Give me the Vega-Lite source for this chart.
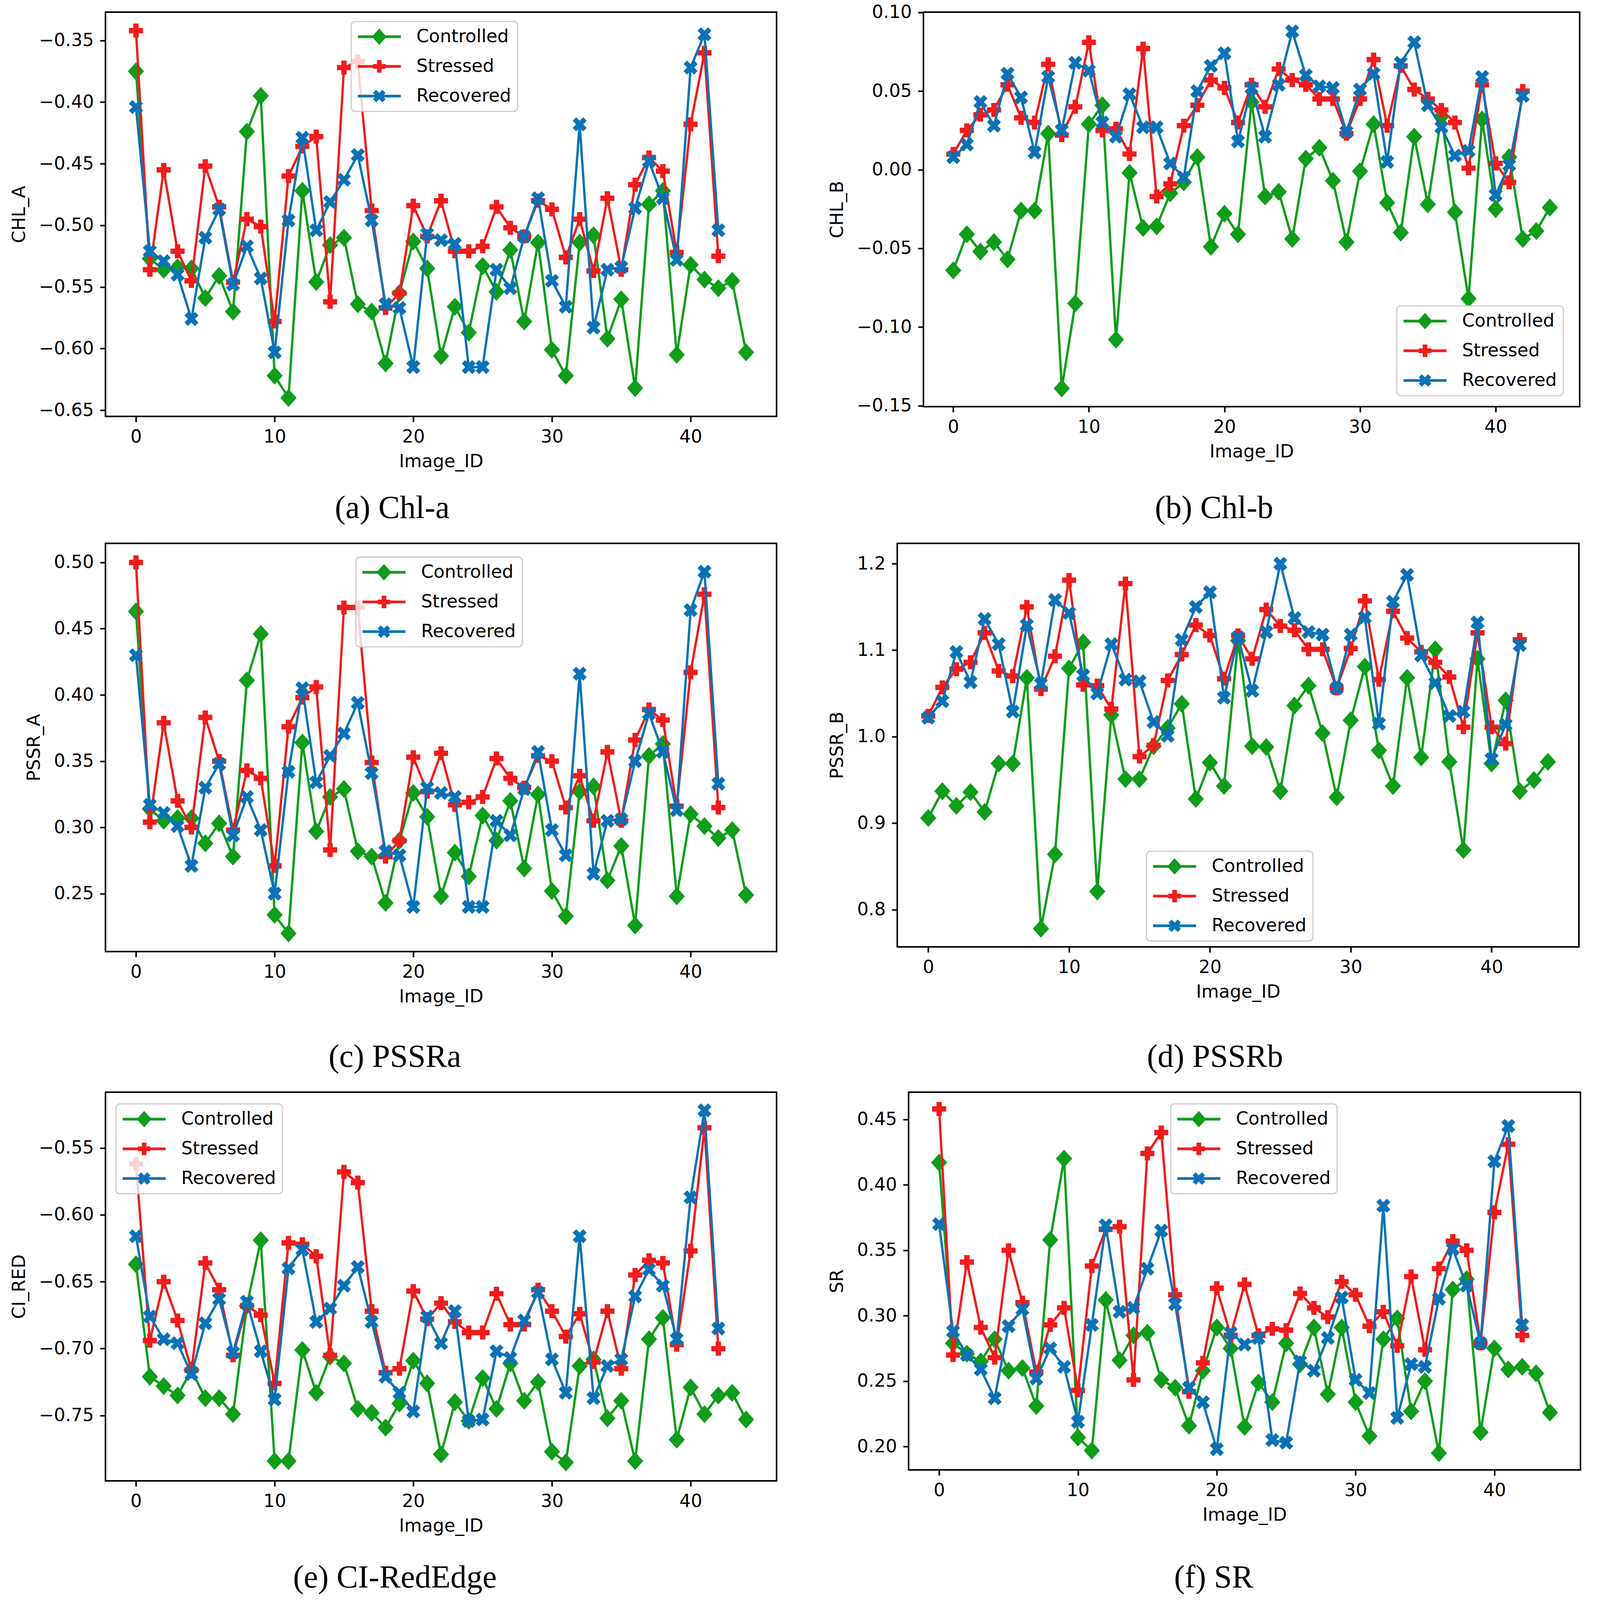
{
  "$schema": "https://vega.github.io/schema/vega-lite/v6.json",
  "background": "white",
  "padding": {"left": 24, "top": 6, "right": 10, "bottom": 0},
  "config": {
    "view": {"stroke": "black", "strokeWidth": 4},
    "axis": {
      "labelFont": "DejaVu Sans", "labelFontSize": 46, "labelColor": "black",
      "titleFont": "DejaVu Sans", "titleFontSize": 46, "titleFontWeight": "normal", "titleColor": "black",
      "tickSize": 14, "tickWidth": 4, "tickColor": "black", "domain": false, "grid": false,
      "labelPadding": 16, "titlePadding": 26
    },
    "axisX": {"labelPadding": 16, "titlePadding": 18},
    "legend": {
      "labelFont": "DejaVu Sans", "labelFontSize": 46, "labelColor": "black", "labelLimit": 500,
      "symbolSize": 1936, "symbolStrokeWidth": 0, "symbolOpacity": 1, "symbolOffset": 33, "labelOffset": 72,
      "padding": 16, "rowPadding": 30, "strokeColor": "#cccccc", "strokeWidth": 3,
      "fillColor": "rgba(255,255,255,0.8)", "cornerRadius": 10
    },
    "title": {"orient": "bottom", "anchor": "middle", "font": "Liberation Serif", "fontSize": 82, "fontWeight": "normal", "color": "black"}
  },
  "datasets": {
    "chla": [
      {"Image_ID":0,"Series":"Controlled","Value":-0.375},{"Image_ID":1,"Series":"Controlled","Value":-0.527},{"Image_ID":2,"Series":"Controlled","Value":-0.536},{"Image_ID":3,"Series":"Controlled","Value":-0.534},{"Image_ID":4,"Series":"Controlled","Value":-0.535},{"Image_ID":5,"Series":"Controlled","Value":-0.559},{"Image_ID":6,"Series":"Controlled","Value":-0.541},{"Image_ID":7,"Series":"Controlled","Value":-0.570},{"Image_ID":8,"Series":"Controlled","Value":-0.424},{"Image_ID":9,"Series":"Controlled","Value":-0.395},{"Image_ID":10,"Series":"Controlled","Value":-0.622},{"Image_ID":11,"Series":"Controlled","Value":-0.640},{"Image_ID":12,"Series":"Controlled","Value":-0.472},{"Image_ID":13,"Series":"Controlled","Value":-0.546},{"Image_ID":14,"Series":"Controlled","Value":-0.516},{"Image_ID":15,"Series":"Controlled","Value":-0.510},{"Image_ID":16,"Series":"Controlled","Value":-0.564},{"Image_ID":17,"Series":"Controlled","Value":-0.570},{"Image_ID":18,"Series":"Controlled","Value":-0.612},{"Image_ID":19,"Series":"Controlled","Value":-0.555},{"Image_ID":20,"Series":"Controlled","Value":-0.513},{"Image_ID":21,"Series":"Controlled","Value":-0.535},{"Image_ID":22,"Series":"Controlled","Value":-0.606},{"Image_ID":23,"Series":"Controlled","Value":-0.566},{"Image_ID":24,"Series":"Controlled","Value":-0.587},{"Image_ID":25,"Series":"Controlled","Value":-0.533},{"Image_ID":26,"Series":"Controlled","Value":-0.554},{"Image_ID":27,"Series":"Controlled","Value":-0.520},{"Image_ID":28,"Series":"Controlled","Value":-0.578},{"Image_ID":29,"Series":"Controlled","Value":-0.514},{"Image_ID":30,"Series":"Controlled","Value":-0.601},{"Image_ID":31,"Series":"Controlled","Value":-0.622},{"Image_ID":32,"Series":"Controlled","Value":-0.514},{"Image_ID":33,"Series":"Controlled","Value":-0.508},{"Image_ID":34,"Series":"Controlled","Value":-0.592},{"Image_ID":35,"Series":"Controlled","Value":-0.560},{"Image_ID":36,"Series":"Controlled","Value":-0.632},{"Image_ID":37,"Series":"Controlled","Value":-0.483},{"Image_ID":38,"Series":"Controlled","Value":-0.472},{"Image_ID":39,"Series":"Controlled","Value":-0.605},{"Image_ID":40,"Series":"Controlled","Value":-0.532},{"Image_ID":41,"Series":"Controlled","Value":-0.544},{"Image_ID":42,"Series":"Controlled","Value":-0.551},{"Image_ID":43,"Series":"Controlled","Value":-0.545},{"Image_ID":44,"Series":"Controlled","Value":-0.603},
      {"Image_ID":0,"Series":"Stressed","Value":-0.342},{"Image_ID":1,"Series":"Stressed","Value":-0.536},{"Image_ID":2,"Series":"Stressed","Value":-0.455},{"Image_ID":3,"Series":"Stressed","Value":-0.521},{"Image_ID":4,"Series":"Stressed","Value":-0.545},{"Image_ID":5,"Series":"Stressed","Value":-0.452},{"Image_ID":6,"Series":"Stressed","Value":-0.485},{"Image_ID":7,"Series":"Stressed","Value":-0.546},{"Image_ID":8,"Series":"Stressed","Value":-0.495},{"Image_ID":9,"Series":"Stressed","Value":-0.501},{"Image_ID":10,"Series":"Stressed","Value":-0.578},{"Image_ID":11,"Series":"Stressed","Value":-0.460},{"Image_ID":12,"Series":"Stressed","Value":-0.436},{"Image_ID":13,"Series":"Stressed","Value":-0.428},{"Image_ID":14,"Series":"Stressed","Value":-0.562},{"Image_ID":15,"Series":"Stressed","Value":-0.372},{"Image_ID":16,"Series":"Stressed","Value":-0.367},{"Image_ID":17,"Series":"Stressed","Value":-0.488},{"Image_ID":18,"Series":"Stressed","Value":-0.567},{"Image_ID":19,"Series":"Stressed","Value":-0.555},{"Image_ID":20,"Series":"Stressed","Value":-0.484},{"Image_ID":21,"Series":"Stressed","Value":-0.509},{"Image_ID":22,"Series":"Stressed","Value":-0.480},{"Image_ID":23,"Series":"Stressed","Value":-0.521},{"Image_ID":24,"Series":"Stressed","Value":-0.521},{"Image_ID":25,"Series":"Stressed","Value":-0.517},{"Image_ID":26,"Series":"Stressed","Value":-0.485},{"Image_ID":27,"Series":"Stressed","Value":-0.502},{"Image_ID":28,"Series":"Stressed","Value":-0.509},{"Image_ID":29,"Series":"Stressed","Value":-0.480},{"Image_ID":30,"Series":"Stressed","Value":-0.487},{"Image_ID":31,"Series":"Stressed","Value":-0.526},{"Image_ID":32,"Series":"Stressed","Value":-0.495},{"Image_ID":33,"Series":"Stressed","Value":-0.537},{"Image_ID":34,"Series":"Stressed","Value":-0.478},{"Image_ID":35,"Series":"Stressed","Value":-0.536},{"Image_ID":36,"Series":"Stressed","Value":-0.467},{"Image_ID":37,"Series":"Stressed","Value":-0.445},{"Image_ID":38,"Series":"Stressed","Value":-0.456},{"Image_ID":39,"Series":"Stressed","Value":-0.522},{"Image_ID":40,"Series":"Stressed","Value":-0.418},{"Image_ID":41,"Series":"Stressed","Value":-0.360},{"Image_ID":42,"Series":"Stressed","Value":-0.525},
      {"Image_ID":0,"Series":"Recovered","Value":-0.404},{"Image_ID":1,"Series":"Recovered","Value":-0.521},{"Image_ID":2,"Series":"Recovered","Value":-0.529},{"Image_ID":3,"Series":"Recovered","Value":-0.540},{"Image_ID":4,"Series":"Recovered","Value":-0.576},{"Image_ID":5,"Series":"Recovered","Value":-0.510},{"Image_ID":6,"Series":"Recovered","Value":-0.487},{"Image_ID":7,"Series":"Recovered","Value":-0.548},{"Image_ID":8,"Series":"Recovered","Value":-0.517},{"Image_ID":9,"Series":"Recovered","Value":-0.543},{"Image_ID":10,"Series":"Recovered","Value":-0.603},{"Image_ID":11,"Series":"Recovered","Value":-0.496},{"Image_ID":12,"Series":"Recovered","Value":-0.429},{"Image_ID":13,"Series":"Recovered","Value":-0.504},{"Image_ID":14,"Series":"Recovered","Value":-0.481},{"Image_ID":15,"Series":"Recovered","Value":-0.463},{"Image_ID":16,"Series":"Recovered","Value":-0.443},{"Image_ID":17,"Series":"Recovered","Value":-0.496},{"Image_ID":18,"Series":"Recovered","Value":-0.564},{"Image_ID":19,"Series":"Recovered","Value":-0.567},{"Image_ID":20,"Series":"Recovered","Value":-0.615},{"Image_ID":21,"Series":"Recovered","Value":-0.507},{"Image_ID":22,"Series":"Recovered","Value":-0.512},{"Image_ID":23,"Series":"Recovered","Value":-0.515},{"Image_ID":24,"Series":"Recovered","Value":-0.615},{"Image_ID":25,"Series":"Recovered","Value":-0.615},{"Image_ID":26,"Series":"Recovered","Value":-0.536},{"Image_ID":27,"Series":"Recovered","Value":-0.551},{"Image_ID":28,"Series":"Recovered","Value":-0.509},{"Image_ID":29,"Series":"Recovered","Value":-0.478},{"Image_ID":30,"Series":"Recovered","Value":-0.545},{"Image_ID":31,"Series":"Recovered","Value":-0.566},{"Image_ID":32,"Series":"Recovered","Value":-0.418},{"Image_ID":33,"Series":"Recovered","Value":-0.583},{"Image_ID":34,"Series":"Recovered","Value":-0.536},{"Image_ID":35,"Series":"Recovered","Value":-0.534},{"Image_ID":36,"Series":"Recovered","Value":-0.486},{"Image_ID":37,"Series":"Recovered","Value":-0.448},{"Image_ID":38,"Series":"Recovered","Value":-0.478},{"Image_ID":39,"Series":"Recovered","Value":-0.528},{"Image_ID":40,"Series":"Recovered","Value":-0.372},{"Image_ID":41,"Series":"Recovered","Value":-0.345},{"Image_ID":42,"Series":"Recovered","Value":-0.504}
    ],
    "chlb": [
      {"Image_ID":0,"Series":"Controlled","Value":-0.064},{"Image_ID":1,"Series":"Controlled","Value":-0.041},{"Image_ID":2,"Series":"Controlled","Value":-0.052},{"Image_ID":3,"Series":"Controlled","Value":-0.046},{"Image_ID":4,"Series":"Controlled","Value":-0.057},{"Image_ID":5,"Series":"Controlled","Value":-0.026},{"Image_ID":6,"Series":"Controlled","Value":-0.026},{"Image_ID":7,"Series":"Controlled","Value":0.023},{"Image_ID":8,"Series":"Controlled","Value":-0.139},{"Image_ID":9,"Series":"Controlled","Value":-0.085},{"Image_ID":10,"Series":"Controlled","Value":0.029},{"Image_ID":11,"Series":"Controlled","Value":0.041},{"Image_ID":12,"Series":"Controlled","Value":-0.108},{"Image_ID":13,"Series":"Controlled","Value":-0.002},{"Image_ID":14,"Series":"Controlled","Value":-0.037},{"Image_ID":15,"Series":"Controlled","Value":-0.036},{"Image_ID":16,"Series":"Controlled","Value":-0.015},{"Image_ID":17,"Series":"Controlled","Value":-0.008},{"Image_ID":18,"Series":"Controlled","Value":0.008},{"Image_ID":19,"Series":"Controlled","Value":-0.049},{"Image_ID":20,"Series":"Controlled","Value":-0.028},{"Image_ID":21,"Series":"Controlled","Value":-0.041},{"Image_ID":22,"Series":"Controlled","Value":0.043},{"Image_ID":23,"Series":"Controlled","Value":-0.017},{"Image_ID":24,"Series":"Controlled","Value":-0.014},{"Image_ID":25,"Series":"Controlled","Value":-0.044},{"Image_ID":26,"Series":"Controlled","Value":0.007},{"Image_ID":27,"Series":"Controlled","Value":0.014},{"Image_ID":28,"Series":"Controlled","Value":-0.007},{"Image_ID":29,"Series":"Controlled","Value":-0.046},{"Image_ID":30,"Series":"Controlled","Value":-0.001},{"Image_ID":31,"Series":"Controlled","Value":0.029},{"Image_ID":32,"Series":"Controlled","Value":-0.021},{"Image_ID":33,"Series":"Controlled","Value":-0.040},{"Image_ID":34,"Series":"Controlled","Value":0.021},{"Image_ID":35,"Series":"Controlled","Value":-0.022},{"Image_ID":36,"Series":"Controlled","Value":0.034},{"Image_ID":37,"Series":"Controlled","Value":-0.027},{"Image_ID":38,"Series":"Controlled","Value":-0.082},{"Image_ID":39,"Series":"Controlled","Value":0.032},{"Image_ID":40,"Series":"Controlled","Value":-0.025},{"Image_ID":41,"Series":"Controlled","Value":0.008},{"Image_ID":42,"Series":"Controlled","Value":-0.044},{"Image_ID":43,"Series":"Controlled","Value":-0.039},{"Image_ID":44,"Series":"Controlled","Value":-0.024},
      {"Image_ID":0,"Series":"Stressed","Value":0.010},{"Image_ID":1,"Series":"Stressed","Value":0.025},{"Image_ID":2,"Series":"Stressed","Value":0.035},{"Image_ID":3,"Series":"Stressed","Value":0.038},{"Image_ID":4,"Series":"Stressed","Value":0.054},{"Image_ID":5,"Series":"Stressed","Value":0.033},{"Image_ID":6,"Series":"Stressed","Value":0.030},{"Image_ID":7,"Series":"Stressed","Value":0.067},{"Image_ID":8,"Series":"Stressed","Value":0.022},{"Image_ID":9,"Series":"Stressed","Value":0.040},{"Image_ID":10,"Series":"Stressed","Value":0.081},{"Image_ID":11,"Series":"Stressed","Value":0.025},{"Image_ID":12,"Series":"Stressed","Value":0.026},{"Image_ID":13,"Series":"Stressed","Value":0.010},{"Image_ID":14,"Series":"Stressed","Value":0.077},{"Image_ID":15,"Series":"Stressed","Value":-0.017},{"Image_ID":16,"Series":"Stressed","Value":-0.009},{"Image_ID":17,"Series":"Stressed","Value":0.028},{"Image_ID":18,"Series":"Stressed","Value":0.041},{"Image_ID":19,"Series":"Stressed","Value":0.057},{"Image_ID":20,"Series":"Stressed","Value":0.052},{"Image_ID":21,"Series":"Stressed","Value":0.030},{"Image_ID":22,"Series":"Stressed","Value":0.054},{"Image_ID":23,"Series":"Stressed","Value":0.040},{"Image_ID":24,"Series":"Stressed","Value":0.064},{"Image_ID":25,"Series":"Stressed","Value":0.057},{"Image_ID":26,"Series":"Stressed","Value":0.054},{"Image_ID":27,"Series":"Stressed","Value":0.045},{"Image_ID":28,"Series":"Stressed","Value":0.045},{"Image_ID":29,"Series":"Stressed","Value":0.023},{"Image_ID":30,"Series":"Stressed","Value":0.045},{"Image_ID":31,"Series":"Stressed","Value":0.070},{"Image_ID":32,"Series":"Stressed","Value":0.028},{"Image_ID":33,"Series":"Stressed","Value":0.066},{"Image_ID":34,"Series":"Stressed","Value":0.051},{"Image_ID":35,"Series":"Stressed","Value":0.045},{"Image_ID":36,"Series":"Stressed","Value":0.038},{"Image_ID":37,"Series":"Stressed","Value":0.030},{"Image_ID":38,"Series":"Stressed","Value":0.001},{"Image_ID":39,"Series":"Stressed","Value":0.054},{"Image_ID":40,"Series":"Stressed","Value":0.004},{"Image_ID":41,"Series":"Stressed","Value":-0.008},{"Image_ID":42,"Series":"Stressed","Value":0.050},
      {"Image_ID":0,"Series":"Recovered","Value":0.008},{"Image_ID":1,"Series":"Recovered","Value":0.016},{"Image_ID":2,"Series":"Recovered","Value":0.043},{"Image_ID":3,"Series":"Recovered","Value":0.028},{"Image_ID":4,"Series":"Recovered","Value":0.061},{"Image_ID":5,"Series":"Recovered","Value":0.046},{"Image_ID":6,"Series":"Recovered","Value":0.011},{"Image_ID":7,"Series":"Recovered","Value":0.059},{"Image_ID":8,"Series":"Recovered","Value":0.025},{"Image_ID":9,"Series":"Recovered","Value":0.068},{"Image_ID":10,"Series":"Recovered","Value":0.063},{"Image_ID":11,"Series":"Recovered","Value":0.030},{"Image_ID":12,"Series":"Recovered","Value":0.021},{"Image_ID":13,"Series":"Recovered","Value":0.048},{"Image_ID":14,"Series":"Recovered","Value":0.027},{"Image_ID":15,"Series":"Recovered","Value":0.027},{"Image_ID":16,"Series":"Recovered","Value":0.004},{"Image_ID":17,"Series":"Recovered","Value":-0.005},{"Image_ID":18,"Series":"Recovered","Value":0.050},{"Image_ID":19,"Series":"Recovered","Value":0.066},{"Image_ID":20,"Series":"Recovered","Value":0.074},{"Image_ID":21,"Series":"Recovered","Value":0.018},{"Image_ID":22,"Series":"Recovered","Value":0.052},{"Image_ID":23,"Series":"Recovered","Value":0.021},{"Image_ID":24,"Series":"Recovered","Value":0.054},{"Image_ID":25,"Series":"Recovered","Value":0.088},{"Image_ID":26,"Series":"Recovered","Value":0.060},{"Image_ID":27,"Series":"Recovered","Value":0.053},{"Image_ID":28,"Series":"Recovered","Value":0.052},{"Image_ID":29,"Series":"Recovered","Value":0.024},{"Image_ID":30,"Series":"Recovered","Value":0.051},{"Image_ID":31,"Series":"Recovered","Value":0.061},{"Image_ID":32,"Series":"Recovered","Value":0.005},{"Image_ID":33,"Series":"Recovered","Value":0.068},{"Image_ID":34,"Series":"Recovered","Value":0.081},{"Image_ID":35,"Series":"Recovered","Value":0.041},{"Image_ID":36,"Series":"Recovered","Value":0.027},{"Image_ID":37,"Series":"Recovered","Value":0.009},{"Image_ID":38,"Series":"Recovered","Value":0.012},{"Image_ID":39,"Series":"Recovered","Value":0.059},{"Image_ID":40,"Series":"Recovered","Value":-0.016},{"Image_ID":41,"Series":"Recovered","Value":0.003},{"Image_ID":42,"Series":"Recovered","Value":0.047}
    ],
    "pssra": [
      {"Image_ID":0,"Series":"Controlled","Value":0.463},{"Image_ID":1,"Series":"Controlled","Value":0.314},{"Image_ID":2,"Series":"Controlled","Value":0.305},{"Image_ID":3,"Series":"Controlled","Value":0.307},{"Image_ID":4,"Series":"Controlled","Value":0.307},{"Image_ID":5,"Series":"Controlled","Value":0.288},{"Image_ID":6,"Series":"Controlled","Value":0.303},{"Image_ID":7,"Series":"Controlled","Value":0.278},{"Image_ID":8,"Series":"Controlled","Value":0.411},{"Image_ID":9,"Series":"Controlled","Value":0.446},{"Image_ID":10,"Series":"Controlled","Value":0.234},{"Image_ID":11,"Series":"Controlled","Value":0.220},{"Image_ID":12,"Series":"Controlled","Value":0.364},{"Image_ID":13,"Series":"Controlled","Value":0.297},{"Image_ID":14,"Series":"Controlled","Value":0.323},{"Image_ID":15,"Series":"Controlled","Value":0.329},{"Image_ID":16,"Series":"Controlled","Value":0.282},{"Image_ID":17,"Series":"Controlled","Value":0.278},{"Image_ID":18,"Series":"Controlled","Value":0.243},{"Image_ID":19,"Series":"Controlled","Value":0.290},{"Image_ID":20,"Series":"Controlled","Value":0.326},{"Image_ID":21,"Series":"Controlled","Value":0.308},{"Image_ID":22,"Series":"Controlled","Value":0.248},{"Image_ID":23,"Series":"Controlled","Value":0.281},{"Image_ID":24,"Series":"Controlled","Value":0.263},{"Image_ID":25,"Series":"Controlled","Value":0.309},{"Image_ID":26,"Series":"Controlled","Value":0.290},{"Image_ID":27,"Series":"Controlled","Value":0.320},{"Image_ID":28,"Series":"Controlled","Value":0.269},{"Image_ID":29,"Series":"Controlled","Value":0.325},{"Image_ID":30,"Series":"Controlled","Value":0.252},{"Image_ID":31,"Series":"Controlled","Value":0.233},{"Image_ID":32,"Series":"Controlled","Value":0.327},{"Image_ID":33,"Series":"Controlled","Value":0.331},{"Image_ID":34,"Series":"Controlled","Value":0.260},{"Image_ID":35,"Series":"Controlled","Value":0.286},{"Image_ID":36,"Series":"Controlled","Value":0.226},{"Image_ID":37,"Series":"Controlled","Value":0.354},{"Image_ID":38,"Series":"Controlled","Value":0.363},{"Image_ID":39,"Series":"Controlled","Value":0.248},{"Image_ID":40,"Series":"Controlled","Value":0.310},{"Image_ID":41,"Series":"Controlled","Value":0.301},{"Image_ID":42,"Series":"Controlled","Value":0.292},{"Image_ID":43,"Series":"Controlled","Value":0.298},{"Image_ID":44,"Series":"Controlled","Value":0.249},
      {"Image_ID":0,"Series":"Stressed","Value":0.500},{"Image_ID":1,"Series":"Stressed","Value":0.304},{"Image_ID":2,"Series":"Stressed","Value":0.379},{"Image_ID":3,"Series":"Stressed","Value":0.320},{"Image_ID":4,"Series":"Stressed","Value":0.300},{"Image_ID":5,"Series":"Stressed","Value":0.383},{"Image_ID":6,"Series":"Stressed","Value":0.350},{"Image_ID":7,"Series":"Stressed","Value":0.298},{"Image_ID":8,"Series":"Stressed","Value":0.343},{"Image_ID":9,"Series":"Stressed","Value":0.337},{"Image_ID":10,"Series":"Stressed","Value":0.271},{"Image_ID":11,"Series":"Stressed","Value":0.376},{"Image_ID":12,"Series":"Stressed","Value":0.398},{"Image_ID":13,"Series":"Stressed","Value":0.406},{"Image_ID":14,"Series":"Stressed","Value":0.283},{"Image_ID":15,"Series":"Stressed","Value":0.466},{"Image_ID":16,"Series":"Stressed","Value":0.466},{"Image_ID":17,"Series":"Stressed","Value":0.349},{"Image_ID":18,"Series":"Stressed","Value":0.278},{"Image_ID":19,"Series":"Stressed","Value":0.290},{"Image_ID":20,"Series":"Stressed","Value":0.353},{"Image_ID":21,"Series":"Stressed","Value":0.327},{"Image_ID":22,"Series":"Stressed","Value":0.356},{"Image_ID":23,"Series":"Stressed","Value":0.317},{"Image_ID":24,"Series":"Stressed","Value":0.319},{"Image_ID":25,"Series":"Stressed","Value":0.323},{"Image_ID":26,"Series":"Stressed","Value":0.352},{"Image_ID":27,"Series":"Stressed","Value":0.337},{"Image_ID":28,"Series":"Stressed","Value":0.330},{"Image_ID":29,"Series":"Stressed","Value":0.354},{"Image_ID":30,"Series":"Stressed","Value":0.350},{"Image_ID":31,"Series":"Stressed","Value":0.315},{"Image_ID":32,"Series":"Stressed","Value":0.339},{"Image_ID":33,"Series":"Stressed","Value":0.305},{"Image_ID":34,"Series":"Stressed","Value":0.357},{"Image_ID":35,"Series":"Stressed","Value":0.305},{"Image_ID":36,"Series":"Stressed","Value":0.366},{"Image_ID":37,"Series":"Stressed","Value":0.389},{"Image_ID":38,"Series":"Stressed","Value":0.381},{"Image_ID":39,"Series":"Stressed","Value":0.316},{"Image_ID":40,"Series":"Stressed","Value":0.417},{"Image_ID":41,"Series":"Stressed","Value":0.476},{"Image_ID":42,"Series":"Stressed","Value":0.315},
      {"Image_ID":0,"Series":"Recovered","Value":0.430},{"Image_ID":1,"Series":"Recovered","Value":0.317},{"Image_ID":2,"Series":"Recovered","Value":0.311},{"Image_ID":3,"Series":"Recovered","Value":0.301},{"Image_ID":4,"Series":"Recovered","Value":0.271},{"Image_ID":5,"Series":"Recovered","Value":0.330},{"Image_ID":6,"Series":"Recovered","Value":0.348},{"Image_ID":7,"Series":"Recovered","Value":0.294},{"Image_ID":8,"Series":"Recovered","Value":0.323},{"Image_ID":9,"Series":"Recovered","Value":0.298},{"Image_ID":10,"Series":"Recovered","Value":0.250},{"Image_ID":11,"Series":"Recovered","Value":0.342},{"Image_ID":12,"Series":"Recovered","Value":0.405},{"Image_ID":13,"Series":"Recovered","Value":0.334},{"Image_ID":14,"Series":"Recovered","Value":0.354},{"Image_ID":15,"Series":"Recovered","Value":0.371},{"Image_ID":16,"Series":"Recovered","Value":0.394},{"Image_ID":17,"Series":"Recovered","Value":0.341},{"Image_ID":18,"Series":"Recovered","Value":0.282},{"Image_ID":19,"Series":"Recovered","Value":0.279},{"Image_ID":20,"Series":"Recovered","Value":0.240},{"Image_ID":21,"Series":"Recovered","Value":0.330},{"Image_ID":22,"Series":"Recovered","Value":0.326},{"Image_ID":23,"Series":"Recovered","Value":0.323},{"Image_ID":24,"Series":"Recovered","Value":0.240},{"Image_ID":25,"Series":"Recovered","Value":0.240},{"Image_ID":26,"Series":"Recovered","Value":0.305},{"Image_ID":27,"Series":"Recovered","Value":0.294},{"Image_ID":28,"Series":"Recovered","Value":0.329},{"Image_ID":29,"Series":"Recovered","Value":0.357},{"Image_ID":30,"Series":"Recovered","Value":0.298},{"Image_ID":31,"Series":"Recovered","Value":0.279},{"Image_ID":32,"Series":"Recovered","Value":0.416},{"Image_ID":33,"Series":"Recovered","Value":0.265},{"Image_ID":34,"Series":"Recovered","Value":0.305},{"Image_ID":35,"Series":"Recovered","Value":0.306},{"Image_ID":36,"Series":"Recovered","Value":0.350},{"Image_ID":37,"Series":"Recovered","Value":0.386},{"Image_ID":38,"Series":"Recovered","Value":0.357},{"Image_ID":39,"Series":"Recovered","Value":0.313},{"Image_ID":40,"Series":"Recovered","Value":0.464},{"Image_ID":41,"Series":"Recovered","Value":0.493},{"Image_ID":42,"Series":"Recovered","Value":0.333}
    ],
    "pssrb": [
      {"Image_ID":0,"Series":"Controlled","Value":0.906},{"Image_ID":1,"Series":"Controlled","Value":0.937},{"Image_ID":2,"Series":"Controlled","Value":0.920},{"Image_ID":3,"Series":"Controlled","Value":0.936},{"Image_ID":4,"Series":"Controlled","Value":0.913},{"Image_ID":5,"Series":"Controlled","Value":0.969},{"Image_ID":6,"Series":"Controlled","Value":0.969},{"Image_ID":7,"Series":"Controlled","Value":1.068},{"Image_ID":8,"Series":"Controlled","Value":0.778},{"Image_ID":9,"Series":"Controlled","Value":0.864},{"Image_ID":10,"Series":"Controlled","Value":1.079},{"Image_ID":11,"Series":"Controlled","Value":1.109},{"Image_ID":12,"Series":"Controlled","Value":0.821},{"Image_ID":13,"Series":"Controlled","Value":1.025},{"Image_ID":14,"Series":"Controlled","Value":0.951},{"Image_ID":15,"Series":"Controlled","Value":0.951},{"Image_ID":16,"Series":"Controlled","Value":0.989},{"Image_ID":17,"Series":"Controlled","Value":1.010},{"Image_ID":18,"Series":"Controlled","Value":1.038},{"Image_ID":19,"Series":"Controlled","Value":0.928},{"Image_ID":20,"Series":"Controlled","Value":0.970},{"Image_ID":21,"Series":"Controlled","Value":0.943},{"Image_ID":22,"Series":"Controlled","Value":1.111},{"Image_ID":23,"Series":"Controlled","Value":0.989},{"Image_ID":24,"Series":"Controlled","Value":0.988},{"Image_ID":25,"Series":"Controlled","Value":0.937},{"Image_ID":26,"Series":"Controlled","Value":1.036},{"Image_ID":27,"Series":"Controlled","Value":1.059},{"Image_ID":28,"Series":"Controlled","Value":1.004},{"Image_ID":29,"Series":"Controlled","Value":0.930},{"Image_ID":30,"Series":"Controlled","Value":1.019},{"Image_ID":31,"Series":"Controlled","Value":1.081},{"Image_ID":32,"Series":"Controlled","Value":0.984},{"Image_ID":33,"Series":"Controlled","Value":0.943},{"Image_ID":34,"Series":"Controlled","Value":1.068},{"Image_ID":35,"Series":"Controlled","Value":0.976},{"Image_ID":36,"Series":"Controlled","Value":1.101},{"Image_ID":37,"Series":"Controlled","Value":0.971},{"Image_ID":38,"Series":"Controlled","Value":0.869},{"Image_ID":39,"Series":"Controlled","Value":1.090},{"Image_ID":40,"Series":"Controlled","Value":0.969},{"Image_ID":41,"Series":"Controlled","Value":1.042},{"Image_ID":42,"Series":"Controlled","Value":0.937},{"Image_ID":43,"Series":"Controlled","Value":0.950},{"Image_ID":44,"Series":"Controlled","Value":0.971},
      {"Image_ID":0,"Series":"Stressed","Value":1.024},{"Image_ID":1,"Series":"Stressed","Value":1.057},{"Image_ID":2,"Series":"Stressed","Value":1.078},{"Image_ID":3,"Series":"Stressed","Value":1.086},{"Image_ID":4,"Series":"Stressed","Value":1.120},{"Image_ID":5,"Series":"Stressed","Value":1.076},{"Image_ID":6,"Series":"Stressed","Value":1.070},{"Image_ID":7,"Series":"Stressed","Value":1.150},{"Image_ID":8,"Series":"Stressed","Value":1.055},{"Image_ID":9,"Series":"Stressed","Value":1.093},{"Image_ID":10,"Series":"Stressed","Value":1.181},{"Image_ID":11,"Series":"Stressed","Value":1.060},{"Image_ID":12,"Series":"Stressed","Value":1.059},{"Image_ID":13,"Series":"Stressed","Value":1.032},{"Image_ID":14,"Series":"Stressed","Value":1.177},{"Image_ID":15,"Series":"Stressed","Value":0.977},{"Image_ID":16,"Series":"Stressed","Value":0.990},{"Image_ID":17,"Series":"Stressed","Value":1.065},{"Image_ID":18,"Series":"Stressed","Value":1.095},{"Image_ID":19,"Series":"Stressed","Value":1.129},{"Image_ID":20,"Series":"Stressed","Value":1.117},{"Image_ID":21,"Series":"Stressed","Value":1.067},{"Image_ID":22,"Series":"Stressed","Value":1.117},{"Image_ID":23,"Series":"Stressed","Value":1.090},{"Image_ID":24,"Series":"Stressed","Value":1.147},{"Image_ID":25,"Series":"Stressed","Value":1.128},{"Image_ID":26,"Series":"Stressed","Value":1.123},{"Image_ID":27,"Series":"Stressed","Value":1.101},{"Image_ID":28,"Series":"Stressed","Value":1.101},{"Image_ID":29,"Series":"Stressed","Value":1.056},{"Image_ID":30,"Series":"Stressed","Value":1.102},{"Image_ID":31,"Series":"Stressed","Value":1.157},{"Image_ID":32,"Series":"Stressed","Value":1.066},{"Image_ID":33,"Series":"Stressed","Value":1.145},{"Image_ID":34,"Series":"Stressed","Value":1.114},{"Image_ID":35,"Series":"Stressed","Value":1.098},{"Image_ID":36,"Series":"Stressed","Value":1.086},{"Image_ID":37,"Series":"Stressed","Value":1.069},{"Image_ID":38,"Series":"Stressed","Value":1.011},{"Image_ID":39,"Series":"Stressed","Value":1.120},{"Image_ID":40,"Series":"Stressed","Value":1.011},{"Image_ID":41,"Series":"Stressed","Value":0.992},{"Image_ID":42,"Series":"Stressed","Value":1.112},
      {"Image_ID":0,"Series":"Recovered","Value":1.022},{"Image_ID":1,"Series":"Recovered","Value":1.041},{"Image_ID":2,"Series":"Recovered","Value":1.098},{"Image_ID":3,"Series":"Recovered","Value":1.063},{"Image_ID":4,"Series":"Recovered","Value":1.136},{"Image_ID":5,"Series":"Recovered","Value":1.107},{"Image_ID":6,"Series":"Recovered","Value":1.029},{"Image_ID":7,"Series":"Recovered","Value":1.129},{"Image_ID":8,"Series":"Recovered","Value":1.061},{"Image_ID":9,"Series":"Recovered","Value":1.158},{"Image_ID":10,"Series":"Recovered","Value":1.143},{"Image_ID":11,"Series":"Recovered","Value":1.071},{"Image_ID":12,"Series":"Recovered","Value":1.050},{"Image_ID":13,"Series":"Recovered","Value":1.107},{"Image_ID":14,"Series":"Recovered","Value":1.066},{"Image_ID":15,"Series":"Recovered","Value":1.064},{"Image_ID":16,"Series":"Recovered","Value":1.017},{"Image_ID":17,"Series":"Recovered","Value":1.001},{"Image_ID":18,"Series":"Recovered","Value":1.112},{"Image_ID":19,"Series":"Recovered","Value":1.150},{"Image_ID":20,"Series":"Recovered","Value":1.167},{"Image_ID":21,"Series":"Recovered","Value":1.045},{"Image_ID":22,"Series":"Recovered","Value":1.115},{"Image_ID":23,"Series":"Recovered","Value":1.053},{"Image_ID":24,"Series":"Recovered","Value":1.121},{"Image_ID":25,"Series":"Recovered","Value":1.200},{"Image_ID":26,"Series":"Recovered","Value":1.137},{"Image_ID":27,"Series":"Recovered","Value":1.121},{"Image_ID":28,"Series":"Recovered","Value":1.118},{"Image_ID":29,"Series":"Recovered","Value":1.056},{"Image_ID":30,"Series":"Recovered","Value":1.118},{"Image_ID":31,"Series":"Recovered","Value":1.138},{"Image_ID":32,"Series":"Recovered","Value":1.015},{"Image_ID":33,"Series":"Recovered","Value":1.156},{"Image_ID":34,"Series":"Recovered","Value":1.187},{"Image_ID":35,"Series":"Recovered","Value":1.094},{"Image_ID":36,"Series":"Recovered","Value":1.062},{"Image_ID":37,"Series":"Recovered","Value":1.024},{"Image_ID":38,"Series":"Recovered","Value":1.029},{"Image_ID":39,"Series":"Recovered","Value":1.132},{"Image_ID":40,"Series":"Recovered","Value":0.974},{"Image_ID":41,"Series":"Recovered","Value":1.014},{"Image_ID":42,"Series":"Recovered","Value":1.106}
    ],
    "cired": [
      {"Image_ID":0,"Series":"Controlled","Value":-0.637},{"Image_ID":1,"Series":"Controlled","Value":-0.721},{"Image_ID":2,"Series":"Controlled","Value":-0.728},{"Image_ID":3,"Series":"Controlled","Value":-0.735},{"Image_ID":4,"Series":"Controlled","Value":-0.716},{"Image_ID":5,"Series":"Controlled","Value":-0.737},{"Image_ID":6,"Series":"Controlled","Value":-0.737},{"Image_ID":7,"Series":"Controlled","Value":-0.749},{"Image_ID":8,"Series":"Controlled","Value":-0.668},{"Image_ID":9,"Series":"Controlled","Value":-0.619},{"Image_ID":10,"Series":"Controlled","Value":-0.784},{"Image_ID":11,"Series":"Controlled","Value":-0.784},{"Image_ID":12,"Series":"Controlled","Value":-0.701},{"Image_ID":13,"Series":"Controlled","Value":-0.733},{"Image_ID":14,"Series":"Controlled","Value":-0.706},{"Image_ID":15,"Series":"Controlled","Value":-0.711},{"Image_ID":16,"Series":"Controlled","Value":-0.745},{"Image_ID":17,"Series":"Controlled","Value":-0.748},{"Image_ID":18,"Series":"Controlled","Value":-0.759},{"Image_ID":19,"Series":"Controlled","Value":-0.741},{"Image_ID":20,"Series":"Controlled","Value":-0.709},{"Image_ID":21,"Series":"Controlled","Value":-0.726},{"Image_ID":22,"Series":"Controlled","Value":-0.779},{"Image_ID":23,"Series":"Controlled","Value":-0.740},{"Image_ID":24,"Series":"Controlled","Value":-0.754},{"Image_ID":25,"Series":"Controlled","Value":-0.722},{"Image_ID":26,"Series":"Controlled","Value":-0.745},{"Image_ID":27,"Series":"Controlled","Value":-0.711},{"Image_ID":28,"Series":"Controlled","Value":-0.739},{"Image_ID":29,"Series":"Controlled","Value":-0.725},{"Image_ID":30,"Series":"Controlled","Value":-0.777},{"Image_ID":31,"Series":"Controlled","Value":-0.785},{"Image_ID":32,"Series":"Controlled","Value":-0.713},{"Image_ID":33,"Series":"Controlled","Value":-0.708},{"Image_ID":34,"Series":"Controlled","Value":-0.752},{"Image_ID":35,"Series":"Controlled","Value":-0.739},{"Image_ID":36,"Series":"Controlled","Value":-0.784},{"Image_ID":37,"Series":"Controlled","Value":-0.693},{"Image_ID":38,"Series":"Controlled","Value":-0.677},{"Image_ID":39,"Series":"Controlled","Value":-0.768},{"Image_ID":40,"Series":"Controlled","Value":-0.729},{"Image_ID":41,"Series":"Controlled","Value":-0.749},{"Image_ID":42,"Series":"Controlled","Value":-0.735},{"Image_ID":43,"Series":"Controlled","Value":-0.733},{"Image_ID":44,"Series":"Controlled","Value":-0.753},
      {"Image_ID":0,"Series":"Stressed","Value":-0.562},{"Image_ID":1,"Series":"Stressed","Value":-0.694},{"Image_ID":2,"Series":"Stressed","Value":-0.650},{"Image_ID":3,"Series":"Stressed","Value":-0.679},{"Image_ID":4,"Series":"Stressed","Value":-0.716},{"Image_ID":5,"Series":"Stressed","Value":-0.636},{"Image_ID":6,"Series":"Stressed","Value":-0.656},{"Image_ID":7,"Series":"Stressed","Value":-0.705},{"Image_ID":8,"Series":"Stressed","Value":-0.668},{"Image_ID":9,"Series":"Stressed","Value":-0.675},{"Image_ID":10,"Series":"Stressed","Value":-0.726},{"Image_ID":11,"Series":"Stressed","Value":-0.621},{"Image_ID":12,"Series":"Stressed","Value":-0.622},{"Image_ID":13,"Series":"Stressed","Value":-0.631},{"Image_ID":14,"Series":"Stressed","Value":-0.705},{"Image_ID":15,"Series":"Stressed","Value":-0.568},{"Image_ID":16,"Series":"Stressed","Value":-0.576},{"Image_ID":17,"Series":"Stressed","Value":-0.672},{"Image_ID":18,"Series":"Stressed","Value":-0.718},{"Image_ID":19,"Series":"Stressed","Value":-0.715},{"Image_ID":20,"Series":"Stressed","Value":-0.657},{"Image_ID":21,"Series":"Stressed","Value":-0.678},{"Image_ID":22,"Series":"Stressed","Value":-0.666},{"Image_ID":23,"Series":"Stressed","Value":-0.680},{"Image_ID":24,"Series":"Stressed","Value":-0.688},{"Image_ID":25,"Series":"Stressed","Value":-0.688},{"Image_ID":26,"Series":"Stressed","Value":-0.659},{"Image_ID":27,"Series":"Stressed","Value":-0.682},{"Image_ID":28,"Series":"Stressed","Value":-0.682},{"Image_ID":29,"Series":"Stressed","Value":-0.656},{"Image_ID":30,"Series":"Stressed","Value":-0.672},{"Image_ID":31,"Series":"Stressed","Value":-0.691},{"Image_ID":32,"Series":"Stressed","Value":-0.674},{"Image_ID":33,"Series":"Stressed","Value":-0.710},{"Image_ID":34,"Series":"Stressed","Value":-0.672},{"Image_ID":35,"Series":"Stressed","Value":-0.715},{"Image_ID":36,"Series":"Stressed","Value":-0.645},{"Image_ID":37,"Series":"Stressed","Value":-0.634},{"Image_ID":38,"Series":"Stressed","Value":-0.636},{"Image_ID":39,"Series":"Stressed","Value":-0.697},{"Image_ID":40,"Series":"Stressed","Value":-0.627},{"Image_ID":41,"Series":"Stressed","Value":-0.535},{"Image_ID":42,"Series":"Stressed","Value":-0.700},
      {"Image_ID":0,"Series":"Recovered","Value":-0.616},{"Image_ID":1,"Series":"Recovered","Value":-0.676},{"Image_ID":2,"Series":"Recovered","Value":-0.693},{"Image_ID":3,"Series":"Recovered","Value":-0.696},{"Image_ID":4,"Series":"Recovered","Value":-0.719},{"Image_ID":5,"Series":"Recovered","Value":-0.681},{"Image_ID":6,"Series":"Recovered","Value":-0.663},{"Image_ID":7,"Series":"Recovered","Value":-0.703},{"Image_ID":8,"Series":"Recovered","Value":-0.665},{"Image_ID":9,"Series":"Recovered","Value":-0.702},{"Image_ID":10,"Series":"Recovered","Value":-0.738},{"Image_ID":11,"Series":"Recovered","Value":-0.640},{"Image_ID":12,"Series":"Recovered","Value":-0.626},{"Image_ID":13,"Series":"Recovered","Value":-0.680},{"Image_ID":14,"Series":"Recovered","Value":-0.670},{"Image_ID":15,"Series":"Recovered","Value":-0.653},{"Image_ID":16,"Series":"Recovered","Value":-0.639},{"Image_ID":17,"Series":"Recovered","Value":-0.680},{"Image_ID":18,"Series":"Recovered","Value":-0.721},{"Image_ID":19,"Series":"Recovered","Value":-0.733},{"Image_ID":20,"Series":"Recovered","Value":-0.747},{"Image_ID":21,"Series":"Recovered","Value":-0.676},{"Image_ID":22,"Series":"Recovered","Value":-0.696},{"Image_ID":23,"Series":"Recovered","Value":-0.672},{"Image_ID":24,"Series":"Recovered","Value":-0.754},{"Image_ID":25,"Series":"Recovered","Value":-0.753},{"Image_ID":26,"Series":"Recovered","Value":-0.702},{"Image_ID":27,"Series":"Recovered","Value":-0.707},{"Image_ID":28,"Series":"Recovered","Value":-0.679},{"Image_ID":29,"Series":"Recovered","Value":-0.658},{"Image_ID":30,"Series":"Recovered","Value":-0.708},{"Image_ID":31,"Series":"Recovered","Value":-0.733},{"Image_ID":32,"Series":"Recovered","Value":-0.616},{"Image_ID":33,"Series":"Recovered","Value":-0.737},{"Image_ID":34,"Series":"Recovered","Value":-0.713},{"Image_ID":35,"Series":"Recovered","Value":-0.708},{"Image_ID":36,"Series":"Recovered","Value":-0.661},{"Image_ID":37,"Series":"Recovered","Value":-0.641},{"Image_ID":38,"Series":"Recovered","Value":-0.653},{"Image_ID":39,"Series":"Recovered","Value":-0.693},{"Image_ID":40,"Series":"Recovered","Value":-0.587},{"Image_ID":41,"Series":"Recovered","Value":-0.522},{"Image_ID":42,"Series":"Recovered","Value":-0.685}
    ],
    "sr": [
      {"Image_ID":0,"Series":"Controlled","Value":0.417},{"Image_ID":1,"Series":"Controlled","Value":0.279},{"Image_ID":2,"Series":"Controlled","Value":0.271},{"Image_ID":3,"Series":"Controlled","Value":0.265},{"Image_ID":4,"Series":"Controlled","Value":0.282},{"Image_ID":5,"Series":"Controlled","Value":0.258},{"Image_ID":6,"Series":"Controlled","Value":0.260},{"Image_ID":7,"Series":"Controlled","Value":0.231},{"Image_ID":8,"Series":"Controlled","Value":0.358},{"Image_ID":9,"Series":"Controlled","Value":0.420},{"Image_ID":10,"Series":"Controlled","Value":0.207},{"Image_ID":11,"Series":"Controlled","Value":0.197},{"Image_ID":12,"Series":"Controlled","Value":0.312},{"Image_ID":13,"Series":"Controlled","Value":0.266},{"Image_ID":14,"Series":"Controlled","Value":0.285},{"Image_ID":15,"Series":"Controlled","Value":0.287},{"Image_ID":16,"Series":"Controlled","Value":0.251},{"Image_ID":17,"Series":"Controlled","Value":0.245},{"Image_ID":18,"Series":"Controlled","Value":0.216},{"Image_ID":19,"Series":"Controlled","Value":0.258},{"Image_ID":20,"Series":"Controlled","Value":0.291},{"Image_ID":21,"Series":"Controlled","Value":0.275},{"Image_ID":22,"Series":"Controlled","Value":0.215},{"Image_ID":23,"Series":"Controlled","Value":0.249},{"Image_ID":24,"Series":"Controlled","Value":0.234},{"Image_ID":25,"Series":"Controlled","Value":0.279},{"Image_ID":26,"Series":"Controlled","Value":0.263},{"Image_ID":27,"Series":"Controlled","Value":0.291},{"Image_ID":28,"Series":"Controlled","Value":0.240},{"Image_ID":29,"Series":"Controlled","Value":0.291},{"Image_ID":30,"Series":"Controlled","Value":0.234},{"Image_ID":31,"Series":"Controlled","Value":0.208},{"Image_ID":32,"Series":"Controlled","Value":0.282},{"Image_ID":33,"Series":"Controlled","Value":0.298},{"Image_ID":34,"Series":"Controlled","Value":0.227},{"Image_ID":35,"Series":"Controlled","Value":0.250},{"Image_ID":36,"Series":"Controlled","Value":0.195},{"Image_ID":37,"Series":"Controlled","Value":0.320},{"Image_ID":38,"Series":"Controlled","Value":0.328},{"Image_ID":39,"Series":"Controlled","Value":0.211},{"Image_ID":40,"Series":"Controlled","Value":0.275},{"Image_ID":41,"Series":"Controlled","Value":0.259},{"Image_ID":42,"Series":"Controlled","Value":0.261},{"Image_ID":43,"Series":"Controlled","Value":0.256},{"Image_ID":44,"Series":"Controlled","Value":0.226},
      {"Image_ID":0,"Series":"Stressed","Value":0.458},{"Image_ID":1,"Series":"Stressed","Value":0.270},{"Image_ID":2,"Series":"Stressed","Value":0.341},{"Image_ID":3,"Series":"Stressed","Value":0.291},{"Image_ID":4,"Series":"Stressed","Value":0.268},{"Image_ID":5,"Series":"Stressed","Value":0.350},{"Image_ID":6,"Series":"Stressed","Value":0.310},{"Image_ID":7,"Series":"Stressed","Value":0.257},{"Image_ID":8,"Series":"Stressed","Value":0.293},{"Image_ID":9,"Series":"Stressed","Value":0.306},{"Image_ID":10,"Series":"Stressed","Value":0.243},{"Image_ID":11,"Series":"Stressed","Value":0.338},{"Image_ID":12,"Series":"Stressed","Value":0.366},{"Image_ID":13,"Series":"Stressed","Value":0.368},{"Image_ID":14,"Series":"Stressed","Value":0.251},{"Image_ID":15,"Series":"Stressed","Value":0.424},{"Image_ID":16,"Series":"Stressed","Value":0.440},{"Image_ID":17,"Series":"Stressed","Value":0.316},{"Image_ID":18,"Series":"Stressed","Value":0.242},{"Image_ID":19,"Series":"Stressed","Value":0.264},{"Image_ID":20,"Series":"Stressed","Value":0.321},{"Image_ID":21,"Series":"Stressed","Value":0.285},{"Image_ID":22,"Series":"Stressed","Value":0.324},{"Image_ID":23,"Series":"Stressed","Value":0.285},{"Image_ID":24,"Series":"Stressed","Value":0.290},{"Image_ID":25,"Series":"Stressed","Value":0.289},{"Image_ID":26,"Series":"Stressed","Value":0.317},{"Image_ID":27,"Series":"Stressed","Value":0.306},{"Image_ID":28,"Series":"Stressed","Value":0.299},{"Image_ID":29,"Series":"Stressed","Value":0.326},{"Image_ID":30,"Series":"Stressed","Value":0.316},{"Image_ID":31,"Series":"Stressed","Value":0.292},{"Image_ID":32,"Series":"Stressed","Value":0.303},{"Image_ID":33,"Series":"Stressed","Value":0.277},{"Image_ID":34,"Series":"Stressed","Value":0.330},{"Image_ID":35,"Series":"Stressed","Value":0.274},{"Image_ID":36,"Series":"Stressed","Value":0.336},{"Image_ID":37,"Series":"Stressed","Value":0.357},{"Image_ID":38,"Series":"Stressed","Value":0.350},{"Image_ID":39,"Series":"Stressed","Value":0.279},{"Image_ID":40,"Series":"Stressed","Value":0.379},{"Image_ID":41,"Series":"Stressed","Value":0.431},{"Image_ID":42,"Series":"Stressed","Value":0.285},
      {"Image_ID":0,"Series":"Recovered","Value":0.370},{"Image_ID":1,"Series":"Recovered","Value":0.288},{"Image_ID":2,"Series":"Recovered","Value":0.270},{"Image_ID":3,"Series":"Recovered","Value":0.259},{"Image_ID":4,"Series":"Recovered","Value":0.237},{"Image_ID":5,"Series":"Recovered","Value":0.292},{"Image_ID":6,"Series":"Recovered","Value":0.305},{"Image_ID":7,"Series":"Recovered","Value":0.252},{"Image_ID":8,"Series":"Recovered","Value":0.275},{"Image_ID":9,"Series":"Recovered","Value":0.261},{"Image_ID":10,"Series":"Recovered","Value":0.219},{"Image_ID":11,"Series":"Recovered","Value":0.293},{"Image_ID":12,"Series":"Recovered","Value":0.369},{"Image_ID":13,"Series":"Recovered","Value":0.303},{"Image_ID":14,"Series":"Recovered","Value":0.306},{"Image_ID":15,"Series":"Recovered","Value":0.336},{"Image_ID":16,"Series":"Recovered","Value":0.365},{"Image_ID":17,"Series":"Recovered","Value":0.309},{"Image_ID":18,"Series":"Recovered","Value":0.245},{"Image_ID":19,"Series":"Recovered","Value":0.234},{"Image_ID":20,"Series":"Recovered","Value":0.198},{"Image_ID":21,"Series":"Recovered","Value":0.287},{"Image_ID":22,"Series":"Recovered","Value":0.278},{"Image_ID":23,"Series":"Recovered","Value":0.283},{"Image_ID":24,"Series":"Recovered","Value":0.205},{"Image_ID":25,"Series":"Recovered","Value":0.203},{"Image_ID":26,"Series":"Recovered","Value":0.265},{"Image_ID":27,"Series":"Recovered","Value":0.258},{"Image_ID":28,"Series":"Recovered","Value":0.283},{"Image_ID":29,"Series":"Recovered","Value":0.314},{"Image_ID":30,"Series":"Recovered","Value":0.251},{"Image_ID":31,"Series":"Recovered","Value":0.241},{"Image_ID":32,"Series":"Recovered","Value":0.384},{"Image_ID":33,"Series":"Recovered","Value":0.222},{"Image_ID":34,"Series":"Recovered","Value":0.263},{"Image_ID":35,"Series":"Recovered","Value":0.261},{"Image_ID":36,"Series":"Recovered","Value":0.313},{"Image_ID":37,"Series":"Recovered","Value":0.351},{"Image_ID":38,"Series":"Recovered","Value":0.323},{"Image_ID":39,"Series":"Recovered","Value":0.279},{"Image_ID":40,"Series":"Recovered","Value":0.418},{"Image_ID":41,"Series":"Recovered","Value":0.445},{"Image_ID":42,"Series":"Recovered","Value":0.293}
    ]
  },
  "spacing": 45,
  "resolve": {"scale": {"color": "independent", "shape": "independent"}, "legend": {"color": "independent", "shape": "independent"}},
  "vconcat": [
    {
      "spacing": 128,
      "resolve": {"scale": {"color": "independent", "shape": "independent"}, "legend": {"color": "independent", "shape": "independent"}},
      "hconcat": [
        {
          "width": 1718, "height": 1035,
          "data": {"name": "chla"},
          "title": {"text": "(a) Chl-a", "dx": -125, "offset": 57},
          "encoding": {
            "x": {"field": "Image_ID", "type": "quantitative", "title": "Image_ID", "scale": {"domain": [-2.2, 46.2], "nice": false, "zero": false}, "axis": {"values": [0, 10, 20, 30, 40], "format": "d"}},
            "y": {"field": "Value", "type": "quantitative", "title": "CHL_A", "scale": {"domain": [-0.655, -0.327], "nice": false, "zero": false}, "axis": {"values": [-0.65, -0.6, -0.55, -0.5, -0.45, -0.4, -0.35], "format": ".2f"}}
          },
          "layer": [
            {"transform": [{"filter": {"field": "Series", "equal": "Controlled"}}], "mark": {"type": "line", "color": "#0f9d1a", "strokeWidth": 6, "point": {"shape": "M0,-1L0.9,0L0,1L-0.9,0Z", "size": 2116, "color": "#0f9d1a", "filled": true, "opacity": 1}}},
            {"transform": [{"filter": {"field": "Series", "equal": "Stressed"}}], "mark": {"type": "line", "color": "#f21c1c", "strokeWidth": 6, "point": {"shape": "M-0.38,-1H0.38V-0.38H1V0.38H0.38V1H-0.38V0.38H-1V-0.38H-0.38Z", "size": 1296, "color": "#f21c1c", "filled": true, "opacity": 1}}},
            {"transform": [{"filter": {"field": "Series", "equal": "Recovered"}}], "mark": {"type": "line", "color": "#0a72b6", "strokeWidth": 6, "point": {"shape": "M-1,-0.5L-0.5,-1L0,-0.5L0.5,-1L1,-0.5L0.5,0L1,0.5L0.5,1L0,0.5L-0.5,1L-1,0.5L-0.5,0Z", "size": 1296, "color": "#0a72b6", "filled": true, "opacity": 1}}},
            {"data": {"values": []}, "mark": {"type": "point", "filled": true, "opacity": 1},
             "encoding": {
               "color": {"field": "Series", "type": "nominal", "scale": {"domain": ["Controlled", "Stressed", "Recovered"], "range": ["#0f9d1a", "#f21c1c", "#0a72b6"]}, "legend": {"title": null, "orient": "none", "legendX": 629, "legendY": 24}},
               "shape": {"field": "Series", "type": "nominal", "scale": {"domain": ["Controlled", "Stressed", "Recovered"], "range": ["M-2.5,-0.16H2.5V0.16H-2.5ZM0,-0.95L0.86,0L0,0.95L-0.86,0Z", "M-2.5,-0.16H2.5V0.16H-2.5ZM-0.27,-0.73H0.27V-0.27H0.73V0.27H0.27V0.73H-0.27V0.27H-0.73V-0.27H-0.27Z", "M-2.5,-0.16H2.5V0.16H-2.5ZM-0.73,-0.36L-0.36,-0.73L0,-0.36L0.36,-0.73L0.73,-0.36L0.36,0L0.73,0.36L0.36,0.73L0,0.36L-0.36,0.73L-0.73,0.36L-0.36,0Z"]}, "legend": {"title": null, "orient": "none", "legendX": 629, "legendY": 24}}
             }}
          ]
        },
        {
          "width": 1680, "height": 1010,
          "data": {"name": "chlb"},
          "title": {"text": "(b) Chl-b", "dx": -96, "offset": 82},
          "encoding": {
            "x": {"field": "Image_ID", "type": "quantitative", "title": "Image_ID", "scale": {"domain": [-2.2, 46.2], "nice": false, "zero": false}, "axis": {"values": [0, 10, 20, 30, 40], "format": "d"}},
            "y": {"field": "Value", "type": "quantitative", "title": "CHL_B", "scale": {"domain": [-0.1506, 0.1002], "nice": false, "zero": false}, "axis": {"values": [-0.15, -0.1, -0.05, 0, 0.05, 0.1], "format": ".2f"}}
          },
          "layer": [
            {"transform": [{"filter": {"field": "Series", "equal": "Controlled"}}], "mark": {"type": "line", "color": "#0f9d1a", "strokeWidth": 6, "point": {"shape": "M0,-1L0.9,0L0,1L-0.9,0Z", "size": 2116, "color": "#0f9d1a", "filled": true, "opacity": 1}}},
            {"transform": [{"filter": {"field": "Series", "equal": "Stressed"}}], "mark": {"type": "line", "color": "#f21c1c", "strokeWidth": 6, "point": {"shape": "M-0.38,-1H0.38V-0.38H1V0.38H0.38V1H-0.38V0.38H-1V-0.38H-0.38Z", "size": 1296, "color": "#f21c1c", "filled": true, "opacity": 1}}},
            {"transform": [{"filter": {"field": "Series", "equal": "Recovered"}}], "mark": {"type": "line", "color": "#0a72b6", "strokeWidth": 6, "point": {"shape": "M-1,-0.5L-0.5,-1L0,-0.5L0.5,-1L1,-0.5L0.5,0L1,0.5L0.5,1L0,0.5L-0.5,1L-1,0.5L-0.5,0Z", "size": 1296, "color": "#0a72b6", "filled": true, "opacity": 1}}},
            {"data": {"values": []}, "mark": {"type": "point", "filled": true, "opacity": 1},
             "encoding": {
               "color": {"field": "Series", "type": "nominal", "scale": {"domain": ["Controlled", "Stressed", "Recovered"], "range": ["#0f9d1a", "#f21c1c", "#0a72b6"]}, "legend": {"title": null, "orient": "none", "legendX": 1212, "legendY": 752}},
               "shape": {"field": "Series", "type": "nominal", "scale": {"domain": ["Controlled", "Stressed", "Recovered"], "range": ["M-2.5,-0.16H2.5V0.16H-2.5ZM0,-0.95L0.86,0L0,0.95L-0.86,0Z", "M-2.5,-0.16H2.5V0.16H-2.5ZM-0.27,-0.73H0.27V-0.27H0.73V0.27H0.27V0.73H-0.27V0.27H-0.73V-0.27H-0.27Z", "M-2.5,-0.16H2.5V0.16H-2.5ZM-0.73,-0.36L-0.36,-0.73L0,-0.36L0.36,-0.73L0.73,-0.36L0.36,0L0.73,0.36L0.36,0.73L0,0.36L-0.36,0.73L-0.73,0.36L-0.36,0Z"]}, "legend": {"title": null, "orient": "none", "legendX": 1212, "legendY": 752}}
             }}
          ]
        }
      ]
    },
    {
      "spacing": 128,
      "resolve": {"scale": {"color": "independent", "shape": "independent"}, "legend": {"color": "independent", "shape": "independent"}},
      "hconcat": [
        {
          "width": 1718, "height": 1045,
          "data": {"name": "pssra"},
          "title": {"text": "(c) PSSRa", "dx": -118, "offset": 92},
          "encoding": {
            "x": {"field": "Image_ID", "type": "quantitative", "title": "Image_ID", "scale": {"domain": [-2.2, 46.2], "nice": false, "zero": false}, "axis": {"values": [0, 10, 20, 30, 40], "format": "d"}},
            "y": {"field": "Value", "type": "quantitative", "title": "PSSR_A", "scale": {"domain": [0.2063, 0.5144], "nice": false, "zero": false}, "axis": {"values": [0.25, 0.3, 0.35, 0.4, 0.45, 0.5], "format": ".2f"}}
          },
          "layer": [
            {"transform": [{"filter": {"field": "Series", "equal": "Controlled"}}], "mark": {"type": "line", "color": "#0f9d1a", "strokeWidth": 6, "point": {"shape": "M0,-1L0.9,0L0,1L-0.9,0Z", "size": 2116, "color": "#0f9d1a", "filled": true, "opacity": 1}}},
            {"transform": [{"filter": {"field": "Series", "equal": "Stressed"}}], "mark": {"type": "line", "color": "#f21c1c", "strokeWidth": 6, "point": {"shape": "M-0.38,-1H0.38V-0.38H1V0.38H0.38V1H-0.38V0.38H-1V-0.38H-0.38Z", "size": 1296, "color": "#f21c1c", "filled": true, "opacity": 1}}},
            {"transform": [{"filter": {"field": "Series", "equal": "Recovered"}}], "mark": {"type": "line", "color": "#0a72b6", "strokeWidth": 6, "point": {"shape": "M-1,-0.5L-0.5,-1L0,-0.5L0.5,-1L1,-0.5L0.5,0L1,0.5L0.5,1L0,0.5L-0.5,1L-1,0.5L-0.5,0Z", "size": 1296, "color": "#0a72b6", "filled": true, "opacity": 1}}},
            {"data": {"values": []}, "mark": {"type": "point", "filled": true, "opacity": 1},
             "encoding": {
               "color": {"field": "Series", "type": "nominal", "scale": {"domain": ["Controlled", "Stressed", "Recovered"], "range": ["#0f9d1a", "#f21c1c", "#0a72b6"]}, "legend": {"title": null, "orient": "none", "legendX": 641, "legendY": 35}},
               "shape": {"field": "Series", "type": "nominal", "scale": {"domain": ["Controlled", "Stressed", "Recovered"], "range": ["M-2.5,-0.16H2.5V0.16H-2.5ZM0,-0.95L0.86,0L0,0.95L-0.86,0Z", "M-2.5,-0.16H2.5V0.16H-2.5ZM-0.27,-0.73H0.27V-0.27H0.73V0.27H0.27V0.73H-0.27V0.27H-0.73V-0.27H-0.27Z", "M-2.5,-0.16H2.5V0.16H-2.5ZM-0.73,-0.36L-0.36,-0.73L0,-0.36L0.36,-0.73L0.73,-0.36L0.36,0L0.73,0.36L0.36,0.73L0,0.36L-0.36,0.73L-0.73,0.36L-0.36,0Z"]}, "legend": {"title": null, "orient": "none", "legendX": 641, "legendY": 35}}
             }}
          ]
        },
        {
          "width": 1745, "height": 1033,
          "data": {"name": "pssrb"},
          "title": {"text": "(d) PSSRb", "dx": -59, "offset": 104},
          "encoding": {
            "x": {"field": "Image_ID", "type": "quantitative", "title": "Image_ID", "scale": {"domain": [-2.2, 46.2], "nice": false, "zero": false}, "axis": {"values": [0, 10, 20, 30, 40], "format": "d"}},
            "y": {"field": "Value", "type": "quantitative", "title": "PSSR_B", "scale": {"domain": [0.757, 1.2235], "nice": false, "zero": false}, "axis": {"values": [0.8, 0.9, 1.0, 1.1, 1.2], "format": ".1f"}}
          },
          "layer": [
            {"transform": [{"filter": {"field": "Series", "equal": "Controlled"}}], "mark": {"type": "line", "color": "#0f9d1a", "strokeWidth": 6, "point": {"shape": "M0,-1L0.9,0L0,1L-0.9,0Z", "size": 2116, "color": "#0f9d1a", "filled": true, "opacity": 1}}},
            {"transform": [{"filter": {"field": "Series", "equal": "Stressed"}}], "mark": {"type": "line", "color": "#f21c1c", "strokeWidth": 6, "point": {"shape": "M-0.38,-1H0.38V-0.38H1V0.38H0.38V1H-0.38V0.38H-1V-0.38H-0.38Z", "size": 1296, "color": "#f21c1c", "filled": true, "opacity": 1}}},
            {"transform": [{"filter": {"field": "Series", "equal": "Recovered"}}], "mark": {"type": "line", "color": "#0a72b6", "strokeWidth": 6, "point": {"shape": "M-1,-0.5L-0.5,-1L0,-0.5L0.5,-1L1,-0.5L0.5,0L1,0.5L0.5,1L0,0.5L-0.5,1L-1,0.5L-0.5,0Z", "size": 1296, "color": "#0a72b6", "filled": true, "opacity": 1}}},
            {"data": {"values": []}, "mark": {"type": "point", "filled": true, "opacity": 1},
             "encoding": {
               "color": {"field": "Series", "type": "nominal", "scale": {"domain": ["Controlled", "Stressed", "Recovered"], "range": ["#0f9d1a", "#f21c1c", "#0a72b6"]}, "legend": {"title": null, "orient": "none", "legendX": 638, "legendY": 788}},
               "shape": {"field": "Series", "type": "nominal", "scale": {"domain": ["Controlled", "Stressed", "Recovered"], "range": ["M-2.5,-0.16H2.5V0.16H-2.5ZM0,-0.95L0.86,0L0,0.95L-0.86,0Z", "M-2.5,-0.16H2.5V0.16H-2.5ZM-0.27,-0.73H0.27V-0.27H0.73V0.27H0.27V0.73H-0.27V0.27H-0.73V-0.27H-0.27Z", "M-2.5,-0.16H2.5V0.16H-2.5ZM-0.73,-0.36L-0.36,-0.73L0,-0.36L0.36,-0.73L0.73,-0.36L0.36,0L0.73,0.36L0.36,0.73L0,0.36L-0.36,0.73L-0.73,0.36L-0.36,0Z"]}, "legend": {"title": null, "orient": "none", "legendX": 638, "legendY": 788}}
             }}
          ]
        }
      ]
    },
    {
      "spacing": 128,
      "resolve": {"scale": {"color": "independent", "shape": "independent"}, "legend": {"color": "independent", "shape": "independent"}},
      "hconcat": [
        {
          "width": 1718, "height": 995,
          "data": {"name": "cired"},
          "title": {"text": "(e) CI-RedEdge", "dx": -118, "offset": 70},
          "encoding": {
            "x": {"field": "Image_ID", "type": "quantitative", "title": "Image_ID", "scale": {"domain": [-2.2, 46.2], "nice": false, "zero": false}, "axis": {"values": [0, 10, 20, 30, 40], "format": "d"}},
            "y": {"field": "Value", "type": "quantitative", "title": "CI_RED", "scale": {"domain": [-0.7988, -0.5084], "nice": false, "zero": false}, "axis": {"values": [-0.75, -0.7, -0.65, -0.6, -0.55], "format": ".2f"}}
          },
          "layer": [
            {"transform": [{"filter": {"field": "Series", "equal": "Controlled"}}], "mark": {"type": "line", "color": "#0f9d1a", "strokeWidth": 6, "point": {"shape": "M0,-1L0.9,0L0,1L-0.9,0Z", "size": 2116, "color": "#0f9d1a", "filled": true, "opacity": 1}}},
            {"transform": [{"filter": {"field": "Series", "equal": "Stressed"}}], "mark": {"type": "line", "color": "#f21c1c", "strokeWidth": 6, "point": {"shape": "M-0.38,-1H0.38V-0.38H1V0.38H0.38V1H-0.38V0.38H-1V-0.38H-0.38Z", "size": 1296, "color": "#f21c1c", "filled": true, "opacity": 1}}},
            {"transform": [{"filter": {"field": "Series", "equal": "Recovered"}}], "mark": {"type": "line", "color": "#0a72b6", "strokeWidth": 6, "point": {"shape": "M-1,-0.5L-0.5,-1L0,-0.5L0.5,-1L1,-0.5L0.5,0L1,0.5L0.5,1L0,0.5L-0.5,1L-1,0.5L-0.5,0Z", "size": 1296, "color": "#0a72b6", "filled": true, "opacity": 1}}},
            {"data": {"values": []}, "mark": {"type": "point", "filled": true, "opacity": 1},
             "encoding": {
               "color": {"field": "Series", "type": "nominal", "scale": {"domain": ["Controlled", "Stressed", "Recovered"], "range": ["#0f9d1a", "#f21c1c", "#0a72b6"]}, "legend": {"title": null, "orient": "none", "legendX": 27, "legendY": 30}},
               "shape": {"field": "Series", "type": "nominal", "scale": {"domain": ["Controlled", "Stressed", "Recovered"], "range": ["M-2.5,-0.16H2.5V0.16H-2.5ZM0,-0.95L0.86,0L0,0.95L-0.86,0Z", "M-2.5,-0.16H2.5V0.16H-2.5ZM-0.27,-0.73H0.27V-0.27H0.73V0.27H0.27V0.73H-0.27V0.27H-0.73V-0.27H-0.27Z", "M-2.5,-0.16H2.5V0.16H-2.5ZM-0.73,-0.36L-0.36,-0.73L0,-0.36L0.36,-0.73L0.73,-0.36L0.36,0L0.73,0.36L0.36,0.73L0,0.36L-0.36,0.73L-0.73,0.36L-0.36,0Z"]}, "legend": {"title": null, "orient": "none", "legendX": 27, "legendY": 30}}
             }}
          ]
        },
        {
          "width": 1720, "height": 967,
          "data": {"name": "sr"},
          "title": {"text": "(f) SR", "dx": -79, "offset": 98},
          "encoding": {
            "x": {"field": "Image_ID", "type": "quantitative", "title": "Image_ID", "scale": {"domain": [-2.2, 46.2], "nice": false, "zero": false}, "axis": {"values": [0, 10, 20, 30, 40], "format": "d"}},
            "y": {"field": "Value", "type": "quantitative", "title": "SR", "scale": {"domain": [0.1822, 0.4708], "nice": false, "zero": false}, "axis": {"values": [0.2, 0.25, 0.3, 0.35, 0.4, 0.45], "format": ".2f"}}
          },
          "layer": [
            {"transform": [{"filter": {"field": "Series", "equal": "Controlled"}}], "mark": {"type": "line", "color": "#0f9d1a", "strokeWidth": 6, "point": {"shape": "M0,-1L0.9,0L0,1L-0.9,0Z", "size": 2116, "color": "#0f9d1a", "filled": true, "opacity": 1}}},
            {"transform": [{"filter": {"field": "Series", "equal": "Stressed"}}], "mark": {"type": "line", "color": "#f21c1c", "strokeWidth": 6, "point": {"shape": "M-0.38,-1H0.38V-0.38H1V0.38H0.38V1H-0.38V0.38H-1V-0.38H-0.38Z", "size": 1296, "color": "#f21c1c", "filled": true, "opacity": 1}}},
            {"transform": [{"filter": {"field": "Series", "equal": "Recovered"}}], "mark": {"type": "line", "color": "#0a72b6", "strokeWidth": 6, "point": {"shape": "M-1,-0.5L-0.5,-1L0,-0.5L0.5,-1L1,-0.5L0.5,0L1,0.5L0.5,1L0,0.5L-0.5,1L-1,0.5L-0.5,0Z", "size": 1296, "color": "#0a72b6", "filled": true, "opacity": 1}}},
            {"data": {"values": []}, "mark": {"type": "point", "filled": true, "opacity": 1},
             "encoding": {
               "color": {"field": "Series", "type": "nominal", "scale": {"domain": ["Controlled", "Stressed", "Recovered"], "range": ["#0f9d1a", "#f21c1c", "#0a72b6"]}, "legend": {"title": null, "orient": "none", "legendX": 671, "legendY": 30}},
               "shape": {"field": "Series", "type": "nominal", "scale": {"domain": ["Controlled", "Stressed", "Recovered"], "range": ["M-2.5,-0.16H2.5V0.16H-2.5ZM0,-0.95L0.86,0L0,0.95L-0.86,0Z", "M-2.5,-0.16H2.5V0.16H-2.5ZM-0.27,-0.73H0.27V-0.27H0.73V0.27H0.27V0.73H-0.27V0.27H-0.73V-0.27H-0.27Z", "M-2.5,-0.16H2.5V0.16H-2.5ZM-0.73,-0.36L-0.36,-0.73L0,-0.36L0.36,-0.73L0.73,-0.36L0.36,0L0.73,0.36L0.36,0.73L0,0.36L-0.36,0.73L-0.73,0.36L-0.36,0Z"]}, "legend": {"title": null, "orient": "none", "legendX": 671, "legendY": 30}}
             }}
          ]
        }
      ]
    }
  ]
}
